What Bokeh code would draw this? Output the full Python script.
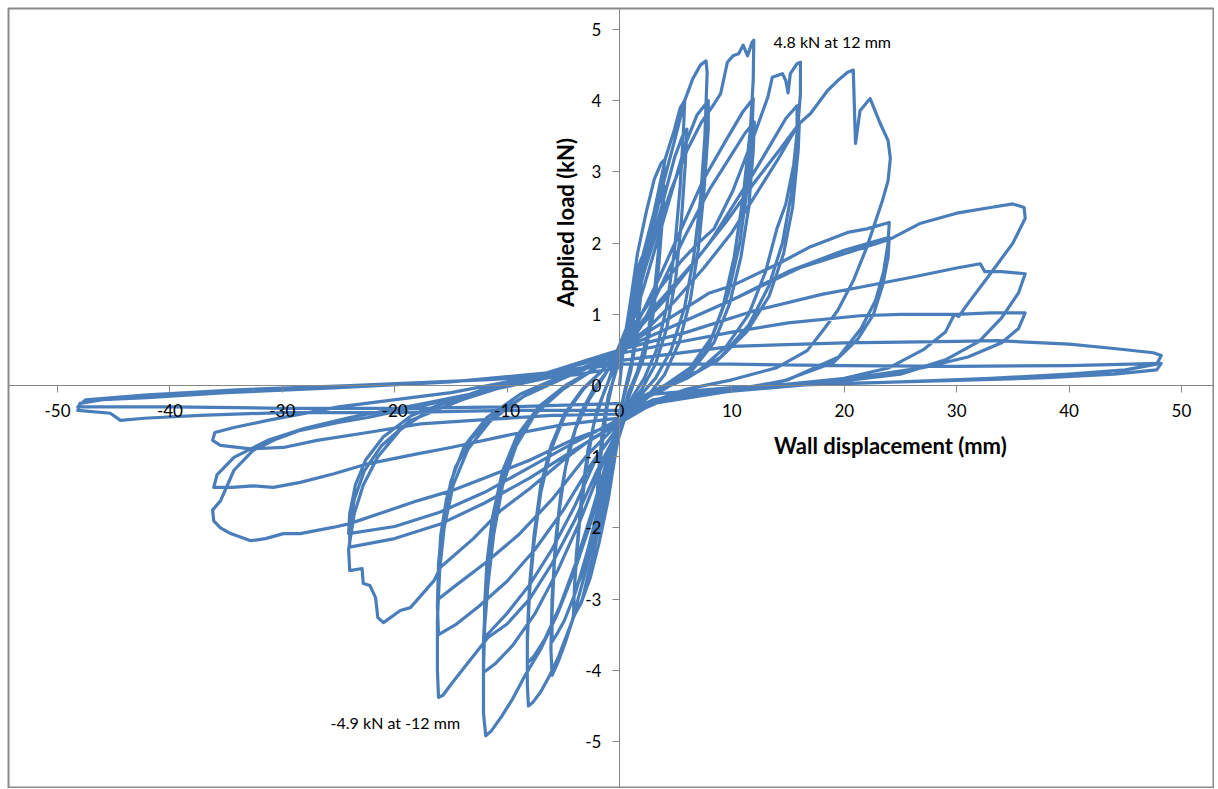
from bokeh.plotting import figure
from bokeh.models import Range1d, FixedTicker, Label
from bokeh.embed import file_html
from bokeh.resources import INLINE

# ---- data: wall displacement (mm) and applied load (kN), cycle by cycle ----
c01_x = [0.0, 0.3, 0.9, 1.5, 2.0, 1.9, 1.6, 1.1, 0.5, 0.1, -0.3, -0.9, -1.5, -2.0, -1.9, -1.6, -1.1, -0.6, -0.1]
c01_y = [0.0, 0.45, 1.1, 1.6, 1.8, 1.5, 0.9, 0.35, -0.05, -0.35, -0.8, -1.3, -1.65, -1.8, -1.45, -0.9, -0.3, 0.05, 0.35]
c02_x = [0.4, 1.0, 1.6, 2.0, 1.85, 1.5, 1.0, 0.4, 0.0, -0.4, -1.0, -1.6, -2.0, -1.85, -1.5, -1.0, -0.4, 0.0]
c02_y = [0.65, 1.1, 1.45, 1.6, 1.2, 0.65, 0.2, -0.15, -0.4, -0.8, -1.2, -1.5, -1.6, -1.2, -0.6, -0.15, 0.15, 0.4]
c03_x = [0.4, 1.0, 1.6, 2.4, 3.1, 3.7, 4.0, 3.9, 3.6, 3.1, 2.5, 1.6, 0.8, 0.2, -0.4, -1.0, -1.8, -2.6, -3.4, -4.1, -4.0, -3.6, -3.0, -2.3, -1.4, -0.6, -0.1]
c03_y = [0.6, 1.2, 1.85, 2.45, 2.9, 3.12, 3.17, 2.8, 2.1, 1.3, 0.7, 0.2, -0.1, -0.45, -1.0, -1.6, -2.2, -2.7, -3.05, -3.25, -2.8, -2.0, -1.2, -0.55, -0.1, 0.2, 0.45]
c04_x = [0.6, 1.3, 2.2, 3.1, 4.0, 3.85, 3.5, 3.0, 2.2, 1.2, 0.4, -0.6, -1.4, -2.3, -3.2, -4.0, -3.85, -3.4, -2.8, -2.0, -1.0, -0.3]
c04_y = [0.8, 1.3, 1.9, 2.45, 2.8, 2.4, 1.7, 1.0, 0.4, 0.0, -0.35, -0.9, -1.5, -2.1, -2.6, -2.9, -2.4, -1.6, -0.9, -0.35, 0.05, 0.4]
c05_x = [0.5, 1.4, 2.4, 3.3, 4.1, 4.9, 5.4, 5.8, 5.7, 5.4, 4.9, 4.2, 3.3, 2.2, 1.2, 0.3,
         -0.5, -1.4, -2.4, -3.3, -4.1, -4.8, -5.5, -6.0, -6.1, -6.0, -5.7, -5.2, -4.5, -3.5, -2.3, -1.1, -0.2]
c05_y = [0.7, 1.3, 1.95, 2.6, 3.2, 3.6, 3.9, 4.0, 3.6, 2.8, 1.9, 1.1, 0.5, 0.1, -0.15, -0.45,
         -1.0, -1.7, -2.4, -3.0, -3.26, -3.6, -3.9, -4.07, -3.7, -3.0, -2.2, -1.5, -0.9, -0.4, -0.05, 0.2, 0.45]
c06_x = [0.7, 1.7, 2.8, 3.9, 4.9, 5.6, 6.0, 5.85, 5.5, 5.0, 4.2, 3.2, 2.0, 0.8, 0.2,
         -0.7, -1.7, -2.8, -3.9, -4.9, -5.6, -6.0, -6.0, -5.8, -5.4, -4.8, -3.9, -2.7, -1.4, -0.3]
c06_y = [0.75, 1.3, 1.95, 2.6, 3.2, 3.5, 3.6, 3.1, 2.3, 1.5, 0.8, 0.3, -0.05, -0.3, -0.5,
         -1.0, -1.6, -2.3, -2.9, -3.3, -3.5, -3.6, -3.2, -2.5, -1.8, -1.15, -0.6, -0.2, 0.12, 0.42]
c07_x = [0.6, 1.6, 2.8, 4.0, 5.0, 5.8, 6.5, 7.2, 7.7, 7.8, 7.6, 7.2, 6.6, 5.8, 4.6, 3.2, 1.8, 0.6,
         -0.8, -1.8, -3.0, -4.2, -5.4, -6.2, -7.0, -7.7, -8.1, -8.2, -8.2, -8.0, -7.6, -7.0, -6.1, -4.8, -3.2, -1.6, -0.3]
c07_y = [0.8, 1.4, 2.1, 2.9, 3.5, 4.0, 4.3, 4.5, 4.56, 4.4, 3.5, 2.6, 1.8, 1.1, 0.5, 0.1, -0.15, -0.4,
         -1.1, -1.8, -2.6, -3.3, -3.8, -4.07, -4.3, -4.45, -4.5, -4.2, -3.6, -2.9, -2.2, -1.5, -0.9, -0.4, -0.05, 0.2, 0.45]
c08_x = [1.0, 2.2, 3.5, 4.8, 5.9, 6.9, 7.9, 7.9, 7.5, 7.0, 6.3, 5.3, 4.0, 2.5, 1.0, 0.2,
         -1.2, -2.5, -3.9, -5.3, -6.6, -7.6, -8.2, -8.2, -8.0, -7.6, -7.0, -6.1, -4.9, -3.3, -1.6, -0.3]
c08_y = [0.8, 1.4, 2.1, 2.8, 3.4, 3.8, 4.0, 3.6, 2.7, 1.9, 1.2, 0.6, 0.15, -0.15, -0.35, -0.55,
         -1.1, -1.8, -2.5, -3.1, -3.55, -3.8, -3.9, -3.5, -2.8, -2.1, -1.4, -0.85, -0.4, -0.05, 0.2, 0.45]
c09_x = [0.6, 1.8, 3.2, 4.6, 6.0, 7.3, 8.4, 9.0, 9.6, 10.1, 10.6, 11.0, 11.4, 11.8, 11.95, 11.9, 11.65, 11.0, 10.2, 9.2, 7.8, 6.0, 4.0, 2.0, 0.6,
         -0.5, -1.0, -2.5, -4.0, -5.5, -7.0, -8.5, -9.5, -10.5, -11.4, -11.9, -12.1, -12.1, -12.0, -11.7, -11.2, -10.4, -9.2, -7.5, -5.0, -2.5, -0.5]
c09_y = [0.8, 1.4, 2.1, 2.75, 3.3, 3.7, 3.95, 4.1, 4.54, 4.63, 4.66, 4.78, 4.63, 4.82, 4.85, 4.3, 3.6, 2.65, 1.8, 1.1, 0.5, 0.15, -0.05, -0.2, -0.4,
         -0.9, -1.1, -1.9, -2.6, -3.2, -3.7, -4.1, -4.4, -4.65, -4.85, -4.92, -4.6, -4.0, -3.4, -2.8, -2.1, -1.4, -0.85, -0.4, -0.05, 0.2, 0.45]
c10_x = [0.3, 1.5, 3.5, 5.5, 7.5, 9.5, 11.0, 11.9, 11.8, 11.4, 10.7, 9.7, 8.3, 6.3, 4.0, 1.8, 0.3,
         -1.5, -3.5, -5.5, -7.5, -9.5, -11.0, -12.1, -12.1, -11.9, -11.4, -10.6, -9.4, -7.6, -5.2, -2.6, -0.5]
c10_y = [0.5, 0.85, 1.5, 2.2, 2.9, 3.45, 3.85, 4.03, 3.6, 2.8, 2.0, 1.3, 0.7, 0.25, 0.0, -0.2, -0.5,
         -1.1, -1.9, -2.6, -3.2, -3.65, -3.9, -4.03, -3.6, -2.9, -2.1, -1.4, -0.85, -0.4, -0.05, 0.2, 0.45]
c11_x = [0.3, 2.0, 4.0, 6.0, 8.0, 10.0, 11.2, 12.0, 11.9, 11.5, 10.8, 9.8, 8.4, 6.4, 4.0, 1.8, 0.3,
         -2.0, -4.0, -6.0, -8.0, -10.0, -11.3, -12.0, -12.0, -11.8, -11.3, -10.4, -9.1, -7.2, -4.8, -2.4, -0.4]
c11_y = [0.45, 0.85, 1.5, 2.15, 2.75, 3.25, 3.55, 3.7, 3.3, 2.5, 1.8, 1.15, 0.6, 0.2, -0.02, -0.2, -0.5,
         -1.0, -1.7, -2.3, -2.8, -3.2, -3.42, -3.54, -3.1, -2.5, -1.85, -1.2, -0.7, -0.3, 0.0, 0.22, 0.45]
c12_x = [0.3, 1.5, 3.5, 5.5, 7.0, 8.4, 10.1, 11.9, 13.2, 13.6, 14.5, 14.8, 15.0, 15.2, 15.8, 16.1, 16.1, 15.9, 15.5, 14.8, 14.0, 13.0, 11.5, 9.5, 7.0, 4.0, 1.5, 0.3,
         -2.0, -4.0, -6.0, -8.0, -10.0, -11.7, -13.3, -15.0, -15.7, -16.1, -16.2, -16.2, -16.0, -15.6, -14.8, -13.5, -11.5, -8.5, -5.0, -2.0, 0.0]
c12_y = [0.5, 0.9, 1.35, 1.75, 2.0, 2.2, 2.74, 3.48, 4.05, 4.33, 4.38, 4.28, 4.11, 4.38, 4.52, 4.54, 4.1, 3.7, 3.1, 2.55, 2.2, 1.6, 1.0, 0.55, 0.2, 0.0, -0.2, -0.5,
         -1.2, -1.9, -2.5, -3.0, -3.35, -3.54, -3.86, -4.2, -4.35, -4.38, -4.0, -3.3, -2.6, -2.0, -1.4, -0.9, -0.5, -0.15, 0.1, 0.3, 0.5]
c13_x = [2.0, 4.0, 6.0, 8.0, 10.0, 12.0, 13.5, 14.8, 15.8, 15.8, 15.3, 14.5, 13.3, 11.5, 9.0, 6.0, 3.0, 0.5,
         -2.5, -5.0, -7.5, -10.0, -12.5, -14.5, -16.1, -16.2, -16.1, -15.7, -15.0, -13.8, -11.8, -8.8, -5.3, -2.2, 0.0]
c13_y = [0.85, 1.2, 1.6, 2.0, 2.5, 3.0, 3.4, 3.75, 3.93, 3.5, 2.7, 2.0, 1.4, 0.85, 0.4, 0.1, -0.1, -0.45,
         -1.1, -1.75, -2.3, -2.75, -3.1, -3.35, -3.5, -3.1, -2.5, -1.9, -1.35, -0.85, -0.45, -0.12, 0.12, 0.32, 0.5]
c14_x = [2.5, 5.0, 7.5, 10.0, 12.0, 14.0, 15.3, 16.0, 15.9, 15.4, 14.6, 13.3, 11.3, 8.7, 5.7, 2.8, 0.4,
         -3.0, -6.0, -9.0, -12.0, -14.5, -16.1, -16.1, -15.9, -15.4, -14.6, -13.2, -11.0, -8.0, -4.8, -2.0, 0.0]
c14_y = [0.8, 1.2, 1.65, 2.15, 2.65, 3.15, 3.5, 3.68, 3.3, 2.5, 1.85, 1.25, 0.75, 0.35, 0.08, -0.12, -0.45,
         -1.0, -1.6, -2.1, -2.5, -2.8, -3.0, -2.6, -2.1, -1.6, -1.15, -0.75, -0.4, -0.1, 0.12, 0.32, 0.5]
c15_x = [2.0, 4.5, 7.0, 9.5, 12.0, 14.2, 16.0, 17.0, 18.5, 19.4, 20.3, 20.8, 21.0, 21.4, 22.3, 23.2, 23.9, 24.1, 23.9, 23.4, 22.0, 20.8, 19.4, 17.9, 16.7, 14.0, 10.0, 6.0, 2.5, 0.3,
         -2.5, -5.0, -8.0, -10.6, -13.0, -15.9, -16.5, -18.6, -19.5, -21.0, -21.5, -21.7, -22.2, -22.8, -22.9, -24.0, -24.1, -23.9, -23.6, -22.8, -21.5, -19.5, -16.5, -12.0, -7.0, -3.0, 0.0]
c15_y = [0.9, 1.35, 1.8, 2.3, 2.85, 3.3, 3.68, 3.82, 4.14, 4.28, 4.4, 4.43, 3.4, 3.86, 4.03, 3.68, 3.44, 3.19, 2.88, 2.6, 1.94, 1.47, 1.05, 0.73, 0.49, 0.25, 0.08, -0.05, -0.25, -0.5,
         -0.75, -1.05, -1.45, -1.76, -2.15, -2.55, -2.74, -3.12, -3.16, -3.33, -3.26, -2.98, -2.81, -2.78, -2.57, -2.6, -2.3, -2.1, -1.8, -1.4, -1.0, -0.62, -0.3, -0.05, 0.15, 0.35, 0.5]
c16_x = [4.0, 8.0, 10.0, 14.0, 17.0, 20.3, 22.0, 24.0, 23.9, 23.5, 22.8, 21.5, 19.5, 15.0, 9.0, 3.0, 0.3,
         -4.0, -8.0, -12.0, -16.0, -20.0, -24.0, -24.0, -23.6, -22.7, -21.2, -18.7, -14.0, -8.0, -3.0, 0.0]
c16_y = [0.9, 1.3, 1.4, 1.7, 1.95, 2.15, 2.2, 2.29, 2.0, 1.6, 1.2, 0.8, 0.4, 0.08, -0.1, -0.25, -0.5,
         -0.9, -1.3, -1.65, -1.95, -2.15, -2.27, -2.0, -1.6, -1.2, -0.85, -0.5, -0.2, 0.1, 0.35, 0.5]
c17_x = [5.0, 10.0, 15.0, 20.0, 24.0, 23.9, 23.4, 22.6, 21.2, 19.0, 14.5, 8.5, 3.0, 0.3,
         -4.0, -8.0, -12.0, -16.0, -20.0, -24.1, -24.0, -23.5, -22.6, -21.0, -18.5, -14.0, -8.0, -3.0, 0.0]
c17_y = [0.85, 1.2, 1.6, 1.9, 2.08, 1.8, 1.4, 1.0, 0.65, 0.32, 0.06, -0.1, -0.25, -0.45,
         -0.8, -1.15, -1.5, -1.78, -1.98, -2.08, -1.8, -1.4, -1.05, -0.72, -0.42, -0.15, 0.1, 0.32, 0.5]
c18_x = [5.0, 10.0, 16.0, 20.0, 24.0, 26.8, 30.0, 33.0, 35.0, 36.0, 36.1, 35.0, 33.0, 31.0, 30.2, 29.8, 29.0, 27.0, 24.0, 20.0, 14.0, 8.0, 3.0, 0.3,
         -4.0, -8.0, -12.0, -15.0, -18.0, -21.0, -24.0, -25.4, -28.4, -29.9, -31.5, -32.8, -34.6, -35.5, -36.1, -36.2, -35.5, -34.3, -32.6, -30.5, -28.4, -25.0, -22.4, -18.0, -13.0, -8.0, -4.0, 0.0]
c18_y = [0.85, 1.2, 1.65, 1.85, 2.05, 2.28, 2.42, 2.5, 2.55, 2.5, 2.35, 2.0, 1.57, 1.15, 0.97, 1.0, 0.75, 0.5, 0.25, 0.1, -0.02, -0.1, -0.25, -0.5,
         -0.75, -1.05, -1.3, -1.48, -1.62, -1.78, -1.94, -1.99, -2.08, -2.08, -2.15, -2.18, -2.08, -2.0, -1.9, -1.75, -1.62, -1.19, -0.91, -0.75, -0.63, -0.52, -0.45, -0.3, -0.12, 0.08, 0.28, 0.5]
c19_x = [6.0, 12.0, 18.0, 21.4, 26.0, 30.0, 32.1, 32.5, 34.0, 36.1, 35.5, 34.0, 32.0, 29.0, 25.0, 18.0, 10.0, 4.0, 0.3,
         -5.0, -10.0, -15.0, -18.0, -22.4, -25.4, -28.4, -30.8, -32.6, -34.5, -36.1, -35.8, -34.3, -31.3, -28.0, -24.0, -18.0, -12.0, -6.0, -2.0, 0.0]
c19_y = [0.75, 1.05, 1.28, 1.38, 1.52, 1.65, 1.71, 1.6, 1.6, 1.57, 1.3, 0.95, 0.62, 0.36, 0.16, 0.03, -0.08, -0.2, -0.45,
         -0.55, -0.7, -0.87, -0.96, -1.1, -1.24, -1.36, -1.43, -1.41, -1.43, -1.43, -1.25, -1.01, -0.77, -0.6, -0.45, -0.27, -0.08, 0.12, 0.3, 0.45]
c20_x = [5.0, 10.0, 15.0, 21.4, 25.0, 30.0, 33.0, 36.1, 35.5, 34.0, 31.0, 27.0, 21.4, 15.0, 8.0, 3.0, 0.3,
         -6.0, -12.0, -17.7, -22.4, -26.9, -29.9, -32.8, -35.5, -36.2, -36.0, -34.3, -31.3, -25.0, -15.0, -5.0, 0.0]
c20_y = [0.6, 0.75, 0.88, 0.98, 1.0, 1.0, 1.02, 1.02, 0.8, 0.6, 0.4, 0.25, 0.12, 0.02, -0.08, -0.2, -0.4,
         -0.42, -0.48, -0.54, -0.66, -0.77, -0.87, -0.89, -0.84, -0.77, -0.66, -0.59, -0.49, -0.3, -0.1, 0.2, 0.35]
c21_x = [10.0, 20.0, 30.0, 33.6, 40.0, 44.0, 47.5, 48.2, 47.8, 45.0, 40.0, 33.0, 25.0, 15.0, 6.0, 0.3,
         -10.0, -20.0, -30.0, -37.3, -42.3, -44.4, -45.3, -48.2, -48.0, -46.0, -42.0, -35.0, -25.0, -15.0, -5.0, 0.0]
c21_y = [0.55, 0.6, 0.62, 0.63, 0.58, 0.52, 0.46, 0.42, 0.3, 0.22, 0.16, 0.1, 0.05, 0.0, -0.1, -0.35,
         -0.35, -0.38, -0.38, -0.42, -0.46, -0.49, -0.39, -0.35, -0.25, -0.2, -0.17, -0.1, -0.03, 0.05, 0.2, 0.3]
c22_x = [10.0, 20.0, 30.0, 40.0, 48.2, 47.8, 44.0, 38.0, 30.0, 20.0, 10.0, 3.0, 0.3,
         -10.0, -20.0, -30.0, -40.0, -48.2, -47.5, -42.0, -34.0, -24.0, -12.0, -4.0, 0.0]
c22_y = [0.3, 0.28, 0.27, 0.28, 0.31, 0.22, 0.16, 0.11, 0.07, 0.03, -0.03, -0.12, -0.25,
         -0.3, -0.32, -0.32, -0.3, -0.3, -0.2, -0.13, -0.06, 0.0, 0.08, 0.15, 0.25]

x_ticks = [-50, -40, -30, -20, -10, 0, 10, 20, 30, 40, 50]
x_tick_labels = ["-50", "-40", "-30", "-20", "-10", "0", "10", "20", "30", "40", "50"]
y_ticks = [-5, -4, -3, -2, -1, 0, 1, 2, 3, 4, 5]
y_tick_labels = ["-5", "-4", "-3", "-2", "-1", "0", "1", "2", "3", "4", "5"]

x_title = "Wall displacement (mm)"
y_title = "Applied load (kN)"
note_max = "4.8 kN at 12 mm"
note_min = "-4.9 kN at -12 mm"

disp = (c01_x + c02_x + c03_x + c04_x + c05_x + c06_x + c07_x + c08_x + c09_x + c10_x + c11_x
        + c12_x + c13_x + c14_x + c15_x + c16_x + c17_x + c18_x + c19_x + c20_x + c21_x + c22_x)
load = (c01_y + c02_y + c03_y + c04_y + c05_y + c06_y + c07_y + c08_y + c09_y + c10_y + c11_y
        + c12_y + c13_y + c14_y + c15_y + c16_y + c17_y + c18_y + c19_y + c20_y + c21_y + c22_y)

FONT = "Lato"
AXIS_GREY = "#868686"

p = figure(width=1214, height=788,
           x_range=Range1d(-54.36, 52.94), y_range=Range1d(-5.66, 5.295),
           output_backend="svg", toolbar_location=None,
           min_border_left=8, min_border_top=8, min_border_right=0, min_border_bottom=0)
p.background_fill_color = "white"
p.border_fill_color = "white"
p.outline_line_color = "#8a8a8a"
p.outline_line_width = 2
p.grid.visible = False

p.line(disp, load, line_color="#4A7EBB", line_width=3.2, line_join="round")

for ax in (p.xaxis[0], p.yaxis[0]):
    ax.fixed_location = 0
    ax.axis_line_color = AXIS_GREY
    ax.major_tick_line_color = AXIS_GREY
    ax.minor_tick_line_color = None
    ax.major_tick_in = 0
    ax.major_tick_out = 7
    ax.major_label_text_font = FONT
    ax.major_label_text_font_size = "17px"
    ax.major_label_text_color = "black"

p.xaxis.ticker = FixedTicker(ticks=x_ticks)
p.yaxis.ticker = FixedTicker(ticks=y_ticks)
p.xaxis.major_label_overrides = {t: s for t, s in zip(x_ticks, x_tick_labels)}
p.yaxis.major_label_overrides = {t: s for t, s in zip(y_ticks, y_tick_labels)}
p.xaxis.major_label_standoff = 11
p.yaxis.major_label_standoff = 11

p.add_layout(Label(x=24.1, y=-0.84, text=x_title, text_font=FONT, text_font_style="bold",
                   text_font_size="22px", text_color="black", text_align="center", text_baseline="middle"))
p.add_layout(Label(x=-4.8, y=2.29, text=y_title, text_font=FONT, text_font_style="bold",
                   text_font_size="22px", text_color="black", text_align="center", text_baseline="middle",
                   angle=1.5708))
p.add_layout(Label(x=13.7, y=4.83, text=note_max, text_font=FONT, text_font_size="16px",
                   text_color="black", text_align="left", text_baseline="middle"))
p.add_layout(Label(x=-25.7, y=-4.73, text=note_min, text_font=FONT, text_font_size="16px",
                   text_color="black", text_align="left", text_baseline="middle"))

open("out.html", "w").write(file_html(p, INLINE))
